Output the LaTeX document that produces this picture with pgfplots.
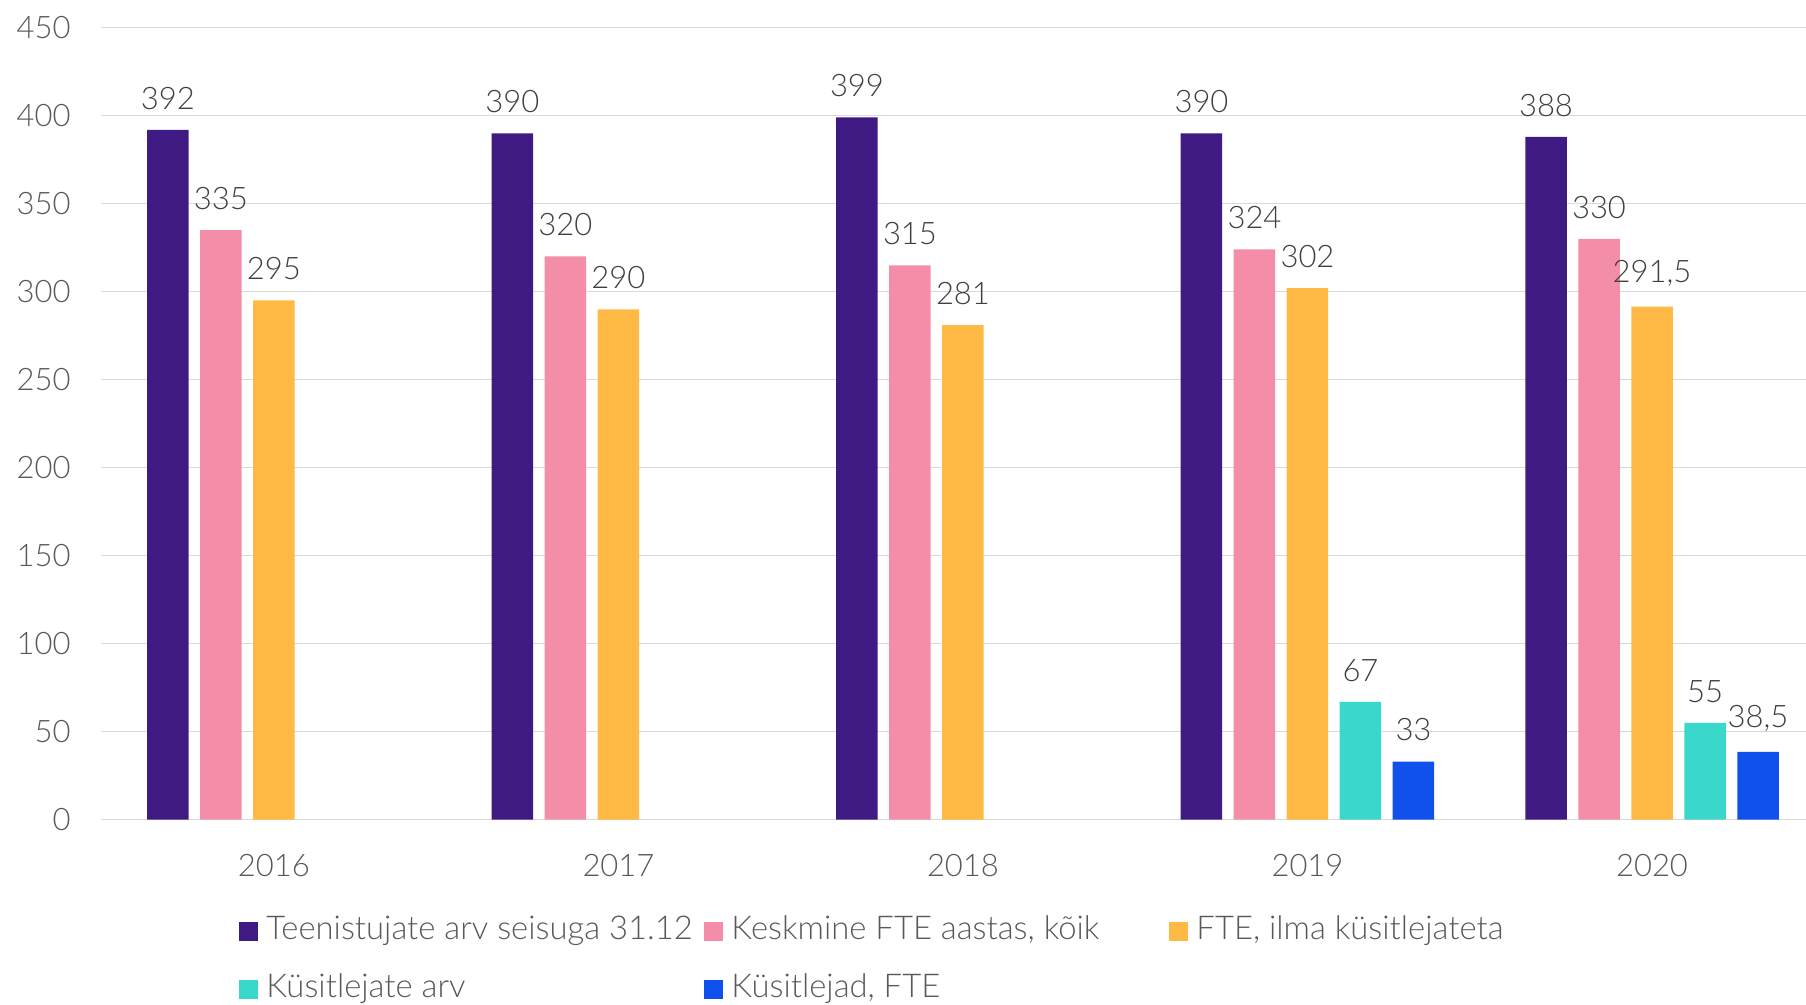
\documentclass[border=0pt]{standalone}
\usepackage{fontspec}
\IfFontExistsTF{Lato Light}{\setmainfont{Lato Light}}{\setmainfont{Lato}}
\usepackage{pgfplots}
\pgfplotsset{compat=1.18}
\definecolor{cPurple}{HTML}{3F1A82}
\definecolor{cPink}{HTML}{F48EA8}
\definecolor{cOrange}{HTML}{FFBA45}
\definecolor{cTeal}{HTML}{3AD8CB}
\definecolor{cBlue}{HTML}{1050ED}
\definecolor{gridgray}{HTML}{D9D9D9}
\definecolor{ticktext}{HTML}{595959}
\definecolor{valtext}{HTML}{404040}

\begin{document}
\begin{tikzpicture}
\begin{axis}[
  scale only axis, width=852.5pt, height=396pt,
  ybar=5.75pt, bar width=20.75pt,
  xmin=-0.502, xmax=4.447, ymin=0, ymax=450,
  xtick={0,1,2,3,4}, xticklabels={2016,2017,2018,2019,2020},
  ytick={0,50,...,450},
  major tick length=0pt,
  axis x line*=bottom, axis y line*=left,
  x axis line style={draw=gridgray, line width=0.75pt, -},
  y axis line style={draw=none},
  ymajorgrids, grid style={draw=gridgray, line width=0.75pt},
  /pgf/number format/assume math mode=true,
  /pgf/number format/use comma,
  font=\fontsize{15.5}{18}\selectfont,
  tick label style={text=ticktext},
  yticklabel style={inner sep=0pt, xshift=-15pt},
  xticklabel style={inner sep=0pt, anchor=north, yshift=-17pt},
  nodes near coords,
  every node near coord/.append style={text=valtext, inner sep=0pt, anchor=south, yshift=10pt},
  clip=false,
  legend columns=3,
  legend style={draw=none, fill=none, inner sep=0pt, column sep=0pt, row sep=15pt,
    at={(0.081,-0.1235)}, anchor=north west,
    nodes={inner sep=0pt, text height=11pt, text depth=3pt, text=ticktext,
           font=\fontsize{16.4}{18}\selectfont}},
  legend image code/.code={\draw[#1, draw=none] (0pt,-4.75pt) rectangle (9.5pt,4.75pt);},
]
\addplot[fill=cPurple, draw=none] coordinates {(0,392) (1,390) (2,399) (3,390) (4,388)};
\addlegendentry{\makebox[223pt][l]{\hspace*{4pt}Teenistujate arv seisuga 31.12}}
\addplot[fill=cPink, draw=none] coordinates {(0,335) (1,320) (2,315) (3,324) (4,330)};
\addlegendentry{\makebox[223pt][l]{\hspace*{4pt}Keskmine FTE aastas, kõik}}
\addplot[fill=cOrange, draw=none] coordinates {(0,295) (1,290) (2,281) (3,302) (4,291.5)};
\addlegendentry{\makebox[223pt][l]{\hspace*{4pt}FTE, ilma küsitlejateta}}
\addplot[fill=cTeal, draw=none] coordinates {(3,67) (4,55)};
\addlegendentry{\makebox[223pt][l]{\hspace*{4pt}Küsitlejate arv}}
\addplot[fill=cBlue, draw=none] coordinates {(3,33) (4,38.5)};
\addlegendentry{\makebox[223pt][l]{\hspace*{4pt}Küsitlejad, FTE}}
\end{axis}
\pgfresetboundingbox
\useasboundingbox (-50.5pt,-92.65pt) rectangle (852.5pt,409.85pt);
\end{tikzpicture}
\end{document}
